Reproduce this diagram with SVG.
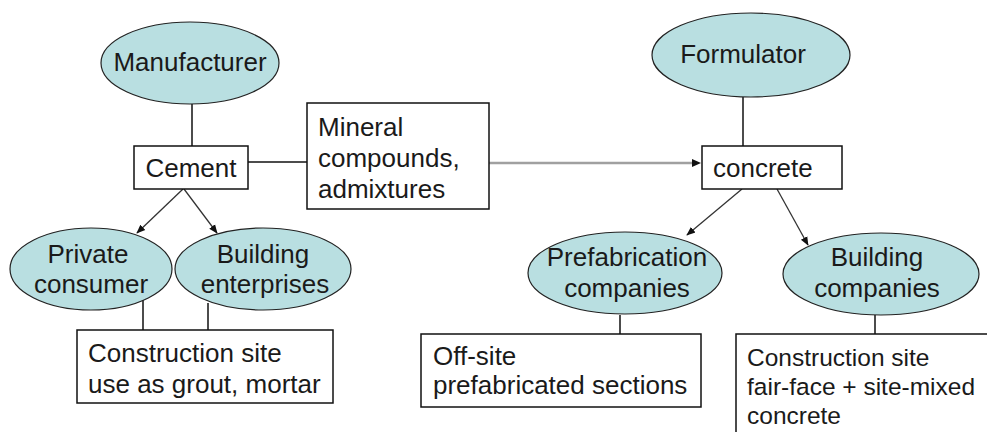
<svg xmlns="http://www.w3.org/2000/svg" width="987" height="432" viewBox="0 0 987 432">
<style>
.bg{fill:#ffffff}
.ell{fill:#b9dfe1;stroke:#222;stroke-width:1.2}
.box{fill:#ffffff;stroke:#111;stroke-width:1.5}
.t{font-family:"Liberation Sans",Arial,sans-serif;font-size:26px;fill:#1a1a1a}
.s{font-size:24.5px}
.m{text-anchor:middle}
.ln{stroke:#111;stroke-width:1.5;fill:none}
.ar{stroke:#333;stroke-width:1.3;fill:none;marker-end:url(#ah)}
.gr{stroke:#a0a0a0;stroke-width:2.5;fill:none}
</style>
<defs>
<marker id="ah" viewBox="0 0 10 10" refX="9" refY="5" markerWidth="9" markerHeight="9" markerUnits="userSpaceOnUse" orient="auto">
<path d="M0,1 L10,5 L0,9 z" fill="#111"/>
</marker>
</defs>
<rect class="bg" x="0" y="0" width="987" height="432"/>
<g id="connectors">
<line class="ln" x1="192" y1="104" x2="192" y2="146"/>
<line class="ln" x1="248" y1="162" x2="307" y2="162"/>
<line class="gr" x1="489" y1="163" x2="692" y2="163"/>
<path d="M692,159 L701,163 L692,167 z" fill="#111"/>
<line class="ln" x1="743" y1="97" x2="743" y2="146"/>
<line class="ar" x1="183" y1="189" x2="137" y2="233"/>
<line class="ar" x1="184" y1="189" x2="217" y2="233"/>
<line class="ar" x1="742" y1="189" x2="687" y2="235"/>
<line class="ar" x1="777" y1="189" x2="808" y2="245"/>
<line class="ln" x1="143" y1="300" x2="143" y2="330"/>
<line class="ln" x1="208" y1="303" x2="208" y2="330"/>
<line class="ln" x1="620" y1="315" x2="620" y2="334"/>
<line class="ln" x1="875" y1="315" x2="875" y2="334"/>
</g>
<g id="manufacturer">
<ellipse class="ell" cx="190" cy="63" rx="89" ry="41"/>
<text class="t m" x="190" y="71">Manufacturer</text>
</g>
<g id="cement">
<rect class="box" x="134" y="146" width="114" height="43"/>
<text class="t m" x="191" y="177">Cement</text>
</g>
<g id="mineral">
<rect class="box" x="307" y="103" width="182" height="106"/>
<text class="t" x="318" y="136">Mineral</text>
<text class="t" x="318" y="167">compounds,</text>
<text class="t" x="318" y="198">admixtures</text>
</g>
<g id="formulator">
<ellipse class="ell" cx="751" cy="55" rx="99" ry="42"/>
<text class="t m" x="743" y="63">Formulator</text>
</g>
<g id="concrete">
<rect class="box" x="702" y="146" width="140" height="43"/>
<text class="t" x="713" y="177">concrete</text>
</g>
<g id="private-consumer">
<ellipse class="ell" cx="91" cy="269" rx="81" ry="41"/>
<text class="t m" x="88" y="263">Private</text>
<text class="t m" x="91" y="293">consumer</text>
</g>
<g id="building-enterprises">
<ellipse class="ell" cx="263" cy="269" rx="88" ry="41"/>
<text class="t m" x="263" y="263">Building</text>
<text class="t m" x="265" y="293">enterprises</text>
</g>
<g id="construction-left">
<rect class="box" x="77" y="330" width="256" height="73"/>
<text class="t" x="88" y="362">Construction site</text>
<text class="t" x="88" y="393">use as grout, mortar</text>
</g>
<g id="prefabrication">
<ellipse class="ell" cx="625" cy="273" rx="97" ry="41"/>
<text class="t m" x="627" y="266">Prefabrication</text>
<text class="t m" x="627" y="297">companies</text>
</g>
<g id="building-companies">
<ellipse class="ell" cx="881" cy="274" rx="98" ry="41"/>
<text class="t m" x="877" y="266">Building</text>
<text class="t m" x="877" y="297">companies</text>
</g>
<g id="offsite">
<rect class="box" x="421" y="334" width="280" height="73"/>
<text class="t" x="433" y="365">Off-site</text>
<text class="t" x="433" y="394">prefabricated sections</text>
</g>
<g id="construction-right">
<rect class="box" x="736" y="334" width="260" height="110"/>
<text class="t s" x="747" y="366">Construction site</text>
<text class="t s" x="747" y="395">fair-face + site-mixed</text>
<text class="t s" x="747" y="424">concrete</text>
</g>
</svg>
